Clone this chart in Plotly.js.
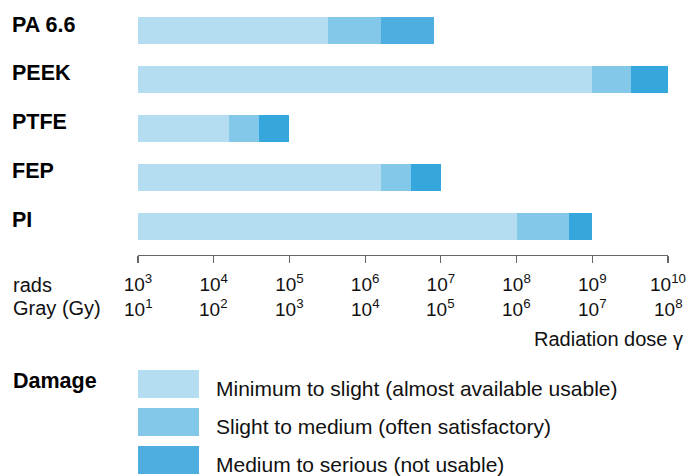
<!DOCTYPE html>
<html>
<head>
<meta charset="utf-8">
<script src="https://cdn.plot.ly/plotly-3.0.1.min.js"></script>
<style>html,body{margin:0;padding:0;background:#fff}#chart{width:689px;height:476px}</style>
</head>
<body>
<div id="chart"></div>
<script>
// ---- data ----
const categories = ['PA 6.6', 'PEEK', 'PTFE', 'FEP', 'PI'];
const startDose = [1e3, 1e3, 1e3, 1e3, 1e3];            // rads
const slightEnd = [3.2e5, 1.0e9, 1.6e4, 1.6e6, 1.0e8];    // end of "minimum to slight"
const mediumEnd = [1.6e6, 3.2e9, 4.0e4, 4.0e6, 5.0e8];    // end of "slight to medium"
const seriousEnd = [8.0e6, 1.0e10, 1.0e5, 1.0e7, 1.0e9];  // end of "medium to serious"
const radsExp = [3, 4, 5, 6, 7, 8, 9, 10];
const grayExp = [1, 2, 3, 4, 5, 6, 7, 8];
const damageLabels = ['Minimum to slight (almost available usable)',
                      'Slight to medium (often satisfactory)',
                      'Medium to serious (not usable)'];

// ---- styles ----
const W = 689, H = 476, ML = 138, MR = 21, MT = 6, MB = 0;
const PW = W - ML - MR, PH = H - MT - MB;
const px2x = p => (p - ML) / PW;
const py2y = p => (H - MB - p) / PH;
const cLight = '#b4ddf2', cMed = '#83c7e9', cDark = '#4daedf', cDark2 = '#35a7dc';
const darkColors = categories.map((c, i) => i === 0 ? cDark : cDark2);
const FONT = 'Liberation Sans, Arial, Helvetica, sans-serif';
const TXT = 20;

const diff = (a, b) => a.map((v, i) => v - b[i]);
const common = {type: 'bar', orientation: 'h', y: categories, width: 0.55, hoverinfo: 'skip', showlegend: false};
const traces = [
  Object.assign({}, common, {name: damageLabels[0], base: startDose, x: diff(slightEnd, startDose), marker: {color: cLight, line: {width: 0}}}),
  Object.assign({}, common, {name: damageLabels[1], base: slightEnd, x: diff(mediumEnd, slightEnd), marker: {color: cMed, line: {width: 0}}}),
  Object.assign({}, common, {name: damageLabels[2], base: mediumEnd, x: diff(seriousEnd, mediumEnd), marker: {color: darkColors, line: {width: 0}}})
];

const sup = (e) => '10<sup>' + e + '</sup>';
const annotations = [];
categories.forEach(c => annotations.push({xref: 'paper', yref: 'y', x: px2x(10), y: c, xanchor: 'left', yanchor: 'middle',
  yshift: 6, text: '<b>' + c + '</b>', showarrow: false, font: {family: FONT, size: 21.5, color: '#000'}}));
annotations.push({xref: 'paper', yref: 'paper', x: px2x(11), y: py2y(285), xanchor: 'left', yanchor: 'middle', text: 'rads', showarrow: false, font: {family: FONT, size: TXT, color: '#111'}});
annotations.push({xref: 'paper', yref: 'paper', x: px2x(11), y: py2y(308), xanchor: 'left', yanchor: 'middle', text: 'Gray (Gy)', showarrow: false, font: {family: FONT, size: TXT, color: '#111'}});
// second tick-label row (Gray) placed on the rads axis positions
radsExp.forEach((e, i) => annotations.push({xref: 'x', yref: 'paper', x: e, y: py2y(308), xanchor: 'center', yanchor: 'middle',
  text: sup(grayExp[i]), showarrow: false, font: {family: FONT, size: 19, color: '#111'}}));
annotations.push({xref: 'paper', yref: 'paper', x: px2x(685), y: py2y(339), xanchor: 'right', yanchor: 'middle', text: 'Radiation dose γ', showarrow: false, font: {family: FONT, size: TXT, color: '#111'}});
annotations.push({xref: 'paper', yref: 'paper', x: px2x(11), y: py2y(381), xanchor: 'left', yanchor: 'middle', text: '<b>Damage</b>', showarrow: false, font: {family: FONT, size: 21.5, color: '#000'}});

const swatchColors = [cLight, cMed, cDark];
const shapes = [];
swatchColors.forEach((col, i) => {
  const top = 370 + i * 38;
  shapes.push({type: 'rect', xref: 'paper', yref: 'paper', x0: px2x(138), x1: px2x(199), y0: py2y(top + 28), y1: py2y(top),
    fillcolor: col, line: {width: 0}, layer: 'above'});
  annotations.push({xref: 'paper', yref: 'paper', x: px2x(214), y: py2y(top + 18), xanchor: 'left', yanchor: 'middle',
    text: damageLabels[i], showarrow: false, font: {family: FONT, size: 21, color: '#111'}});
});

const layout = {
  width: W, height: H,
  margin: {l: ML, r: MR, t: MT, b: MB, pad: 0},
  paper_bgcolor: '#fff', plot_bgcolor: '#fff',
  barmode: 'overlay', bargap: 0,
  font: {family: FONT, color: '#111'},
  xaxis: {type: 'log', range: [3, 10], anchor: 'y', showgrid: false, zeroline: false,
    showline: true, linecolor: '#666', linewidth: 1.2, ticks: 'outside', ticklen: 7, tickwidth: 1.2, tickcolor: '#666',
    tickvals: radsExp.map(e => Math.pow(10, e)), ticktext: radsExp.map(sup), ticklabelstandoff: 5,
    tickfont: {family: FONT, size: 19, color: '#111'}},
  yaxis: {domain: [py2y(255), 1], type: 'category', categoryorder: 'array', categoryarray: categories,
    range: [4.582, -0.5], showticklabels: false, showgrid: false, zeroline: false, showline: false, ticks: ''},
  annotations: annotations,
  shapes: shapes
};
Plotly.newPlot('chart', traces, layout, {displayModeBar: false, staticPlot: true});
</script>
</body>
</html>
